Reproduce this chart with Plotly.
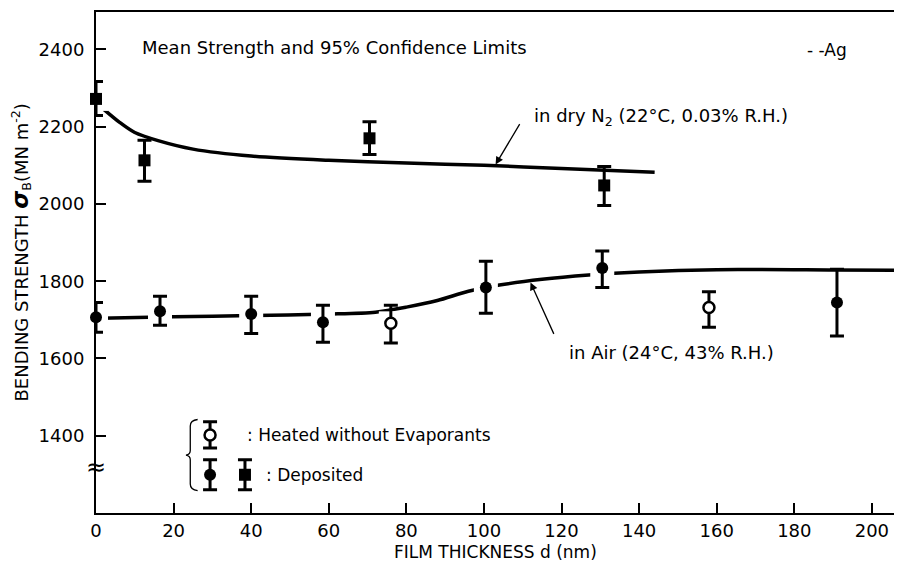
import plotly.graph_objects as go

# ---- data ----
# in dry N2, deposited (squares)
n2_x = [0, 12.5, 70.5, 131]
n2_y = [2272, 2113, 2170, 2048]
n2_hi = [2317, 2165, 2213, 2097]
n2_lo = [2229, 2059, 2128, 1996]

# in air, deposited (filled circles)
air_x = [0, 16.5, 40, 58.5, 100.5, 130.5, 191]
air_y = [1707, 1722, 1715, 1694, 1784, 1834, 1745]
air_hi = [1745, 1761, 1761, 1738, 1852, 1878, 1831]
air_lo = [1668, 1686, 1665, 1642, 1717, 1784, 1658]

# in air, heated without evaporants (open circles)
heat_x = [76, 158]
heat_y = [1691, 1732]
heat_hi = [1738, 1773]
heat_lo = [1640, 1681]

# hand-drawn trend curves
n2_curve_x = [2, 6, 10, 16, 25, 40, 60, 80, 100, 120, 144]
n2_curve_y = [2245, 2212, 2185, 2164, 2142, 2124, 2113, 2106, 2100, 2092, 2082]
air_curve_x = [1, 20, 40, 60, 72, 80, 88, 96, 104, 115, 127, 140, 160, 190, 208]
air_curve_y = [1704, 1708, 1711, 1715, 1720, 1733, 1750, 1774, 1790, 1805, 1816, 1824, 1830, 1829, 1828]

x_ticks = [0, 20, 40, 60, 80, 100, 120, 140, 160, 180, 200]
y_ticks = [1400, 1600, 1800, 2000, 2200, 2400]

FONT = "DejaVu Sans"
INK = "black"


def err(y, hi, lo):
    return dict(
        type="data",
        array=[h - v for h, v in zip(hi, y)],
        arrayminus=[v - l for v, l in zip(y, lo)],
        color=INK,
        thickness=3,
        width=7,
    )


fig = go.Figure()

# trend curves
for cx, cy in [(n2_curve_x, n2_curve_y), (air_curve_x, air_curve_y)]:
    fig.add_trace(go.Scatter(x=cx, y=cy, mode="lines",
                             line=dict(color=INK, width=3.5, shape="spline", smoothing=0.8),
                             hoverinfo="skip", showlegend=False))

# white halos so the curves break around the points (as in the print)
fig.add_trace(go.Scatter(x=n2_x + air_x + heat_x, y=n2_y + air_y + heat_y, mode="markers",
                         marker=dict(color="white", size=24, symbol="square"),
                         hoverinfo="skip", showlegend=False))

fig.add_trace(go.Scatter(x=n2_x, y=n2_y, mode="markers", error_y=err(n2_y, n2_hi, n2_lo),
                         marker=dict(symbol="square", size=12, color=INK), cliponaxis=False,
                         name="Deposited (dry N2)", showlegend=False))
fig.add_trace(go.Scatter(x=air_x, y=air_y, mode="markers", error_y=err(air_y, air_hi, air_lo),
                         marker=dict(symbol="circle", size=12, color=INK), cliponaxis=False,
                         name="Deposited (air)", showlegend=False))
fig.add_trace(go.Scatter(x=heat_x, y=heat_y, mode="markers", error_y=err(heat_y, heat_hi, heat_lo),
                         marker=dict(symbol="circle", size=11, color="white",
                                     line=dict(color=INK, width=2.5)), cliponaxis=False,
                         name="Heated without Evaporants", showlegend=False))

# hand-made key in the lower left
KEY_OPEN = (29.4, 1402)
KEY_FILLED = (29.4, 1299)
KEY_SQUARE = (38.4, 1299)
fig.add_trace(go.Scatter(x=[KEY_OPEN[0]], y=[KEY_OPEN[1]], mode="markers",
                         error_y=dict(type="constant", value=34, color=INK, thickness=3, width=7),
                         marker=dict(symbol="circle", size=11, color="white",
                                     line=dict(color=INK, width=2.5)),
                         hoverinfo="skip", showlegend=False))
fig.add_trace(go.Scatter(x=[KEY_FILLED[0], KEY_SQUARE[0]], y=[KEY_FILLED[1], KEY_SQUARE[1]],
                         mode="markers",
                         error_y=dict(type="constant", value=39, color=INK, thickness=3, width=7),
                         marker=dict(symbol=["circle", "square"], size=12, color=INK),
                         hoverinfo="skip", showlegend=False))
fig.add_shape(type="path", xref="x", yref="y",
              path="M 26.2,1442 Q 24.3,1440 24.3,1425 L 24.3,1362 Q 24.3,1352 23.2,1350 "
                   "Q 24.3,1348 24.3,1338 L 24.3,1275 Q 24.3,1260 26.2,1258",
              line=dict(color=INK, width=1.3))

txt = dict(family=FONT, size=17, color=INK)
fig.add_annotation(x=38.4, y=1403, xref="x", yref="y", text=": Heated without Evaporants",
                   showarrow=False, xanchor="left", font=txt)
fig.add_annotation(x=43.4, y=1299, xref="x", yref="y", text=": Deposited",
                   showarrow=False, xanchor="left", font=txt)

# curve labels with arrows
fig.add_annotation(x=112.5, y=2224, text="in dry N<sub>2</sub> (22°C, 0.03% R.H.)",
                   showarrow=False, xanchor="left", font=dict(family=FONT, size=18, color=INK))
fig.add_annotation(x=103, y=2102, ax=25, ay=-42, text="", showarrow=True,
                   arrowhead=2, arrowsize=1.2, arrowwidth=1.3, arrowcolor=INK)
fig.add_annotation(x=121.5, y=1616, text="in Air (24°C, 43% R.H.)",
                   showarrow=False, xanchor="left", font=dict(family=FONT, size=18, color=INK))
fig.add_annotation(x=112, y=1797, ax=24, ay=53, text="", showarrow=True,
                   arrowhead=2, arrowsize=1.2, arrowwidth=1.3, arrowcolor=INK)

fig.add_annotation(x=0.0551, y=0.954, xref="paper", yref="paper",
                   text="Mean Strength and 95% Confidence Limits",
                   showarrow=False, xanchor="left", font=dict(family=FONT, size=18, color=INK))
fig.add_annotation(x=0.888, y=0.948, xref="paper", yref="paper", text="- -Ag",
                   showarrow=False, xanchor="left", font=dict(family=FONT, size=17, color=INK))

# axis break mark
fig.add_annotation(x=0, y=1320, xref="paper", yref="y", xanchor="center", text="≈",
                   showarrow=False, font=dict(family=FONT, size=24, color=INK))

# axis titles
fig.add_annotation(x=0, y=0.52, xref="paper", yref="paper", xshift=-75, xanchor="center",
                   yanchor="middle", textangle=-90,
                   text="BENDING STRENGTH <b><i><span style='font-size:23px'>σ</span></i></b>"
                        "<sub>B</sub>(MN m<sup>-2</sup>)",
                   showarrow=False, font=dict(family=FONT, size=18, color=INK))
fig.add_annotation(x=0.5, y=0, xref="paper", yref="paper", yshift=-39, yanchor="middle",
                   text="FILM THICKNESS d (nm)", showarrow=False,
                   font=dict(family=FONT, size=17, color=INK))

# the page body has an 8 px margin, so the figure is drawn 8 px in from the corner
fig.update_layout(
    width=886,
    height=553,
    margin=dict(l=88, r=0, t=4, b=48),
    paper_bgcolor="white",
    plot_bgcolor="white",
    font=dict(family=FONT, size=18, color=INK),
    xaxis=dict(range=[0, 205.7], tickvals=x_ticks, ticks="inside", ticklen=10,
               tickwidth=1.5, tickcolor=INK, showline=True, linecolor=INK, linewidth=2,
               mirror=True, showgrid=False, zeroline=False, ticklabelstandoff=0),
    yaxis=dict(range=[1200, 2497], tickvals=y_ticks, ticks="inside", ticklen=10,
               tickwidth=1.5, tickcolor=INK, showline=True, linecolor=INK, linewidth=2,
               showgrid=False, zeroline=False, ticklabelstandoff=6),
    showlegend=False,
)

fig.write_html("out.html")
